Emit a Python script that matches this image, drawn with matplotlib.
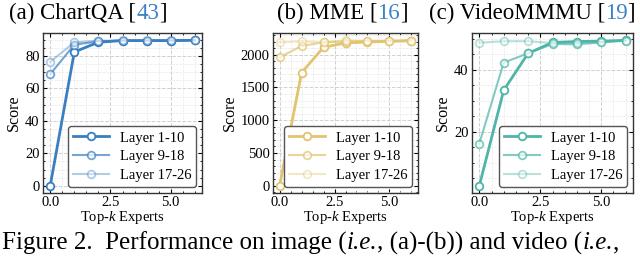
import matplotlib.pyplot as plt
from matplotlib.offsetbox import TextArea, HPacker, AnchoredOffsetbox
from matplotlib.ticker import AutoMinorLocator

plt.rcParams['font.family'] = ['Liberation Serif', 'DejaVu Serif']
plt.rcParams['mathtext.fontset'] = 'custom'
plt.rcParams['mathtext.rm'] = 'Liberation Serif'
plt.rcParams['mathtext.it'] = 'Liberation Serif:italic'

topk = [0, 1, 2, 3, 4, 5, 6]
layers = ["Layer 1-10", "Layer 9-18", "Layer 17-26"]

chartqa_1_10 = [0, 82.5, 88.5, 89.5, 89.5, 89.5, 89.7]
chartqa_9_18 = [68.8, 87.0, 89.0, 89.5, 89.5, 89.5, 89.7]
chartqa_17_26 = [76.4, 88.4, 89.4, 89.6, 89.6, 89.6, 89.7]

mme_1_10 = [0, 1725, 2112, 2178, 2193, 2203, 2214]
mme_9_18 = [1959, 2132, 2188, 2203, 2208, 2210, 2212]
mme_17_26 = [2193, 2208, 2193, 2219, 2212, 2214, 2215]

video_1_10 = [2.6, 33.4, 45.3, 48.8, 49.1, 49.2, 49.5]
video_9_18 = [16.2, 42.3, 45.3, 48.3, 48.2, 48.8, 49.4]
video_17_26 = [48.7, 49.2, 49.2, 48.6, 48.7, 49.0, 49.4]

panels = [
    ("(a) ChartQA [", "43", "]", "#3a7fc1", [chartqa_1_10, chartqa_9_18, chartqa_17_26]),
    ("(b) MME [", "16", "]", "#e2c36e", [mme_1_10, mme_9_18, mme_17_26]),
    ("(c) VideoMMMU [", "19", "]", "#4fb5a8", [video_1_10, video_9_18, video_17_26]),
]
# axes left/right edges and title centres, in pixels
edges = [(43, 202), (273, 418), (472, 633)]
title_x = [88, 342, 532]
alphas = [1.0, 0.7, 0.4]
lws = [2.0, 1.5, 1.5]

W, H = 640, 260
fig = plt.figure(figsize=(6.4, 2.6), dpi=100)

for (pre, ref, post, color, series), (l, r), tx in zip(panels, edges, title_x):
    ax = fig.add_axes([l / W, 1 - 193 / H, (r - l) / W, 160 / H])
    for vals, name, a, lw in zip(series, layers, alphas, lws):
        ax.plot(topk, vals, color=color, alpha=a, lw=lw, marker='o', ms=5.5,
                mfc='white', mec=color, mew=1.3, label=name)
    ax.set_xticks([0, 2.5, 5.0])
    ax.xaxis.set_minor_locator(AutoMinorLocator())
    ax.yaxis.set_minor_locator(AutoMinorLocator())
    ax.grid(True, which='major', ls='--', color='#d0d0d0', lw=0.7)
    ax.grid(True, which='minor', ls='--', color='#e8e8e8', lw=0.5)
    ax.tick_params(which='both', direction='in', top=True, right=True, labelsize=10.5)
    ax.tick_params(which='major', length=3, pad=2.5)
    ax.tick_params(which='minor', length=1.5)
    for s in ax.spines.values():
        s.set_linewidth(1.0)
        s.set_color('#333333')
    ax.set_xlabel("Top-$k$ Experts", fontsize=10.5, labelpad=0)
    ax.set_ylabel("Score", fontsize=11.5, labelpad=2)
    leg = ax.legend(loc='lower right', fontsize=10.5, fancybox=True, framealpha=1,
                    edgecolor='#555555', handlelength=2.5, borderpad=0.35,
                    labelspacing=0.38, borderaxespad=0.4, handletextpad=0.7)
    leg.get_frame().set_linewidth(1.0)
    box = HPacker(children=[
        TextArea(pre, textprops=dict(fontsize=16.5, color='black')),
        TextArea(ref, textprops=dict(fontsize=16.5, color='#3b82c4')),
        TextArea(post, textprops=dict(fontsize=16.5, color='black')),
    ], pad=0, sep=0)
    anch = AnchoredOffsetbox(loc='center', child=box, frameon=False,
                             bbox_to_anchor=(tx / W, 1 - 13 / H),
                             bbox_transform=fig.transFigure, borderpad=0, pad=0)
    fig.add_artist(anch)

cap_parts = [("Figure 2.  Performance on image (", 'normal'), ("i.e.", 'italic'),
             (", (a)-(b)) and video (", 'normal'), ("i.e.", 'italic'), (",", 'normal')]
cap = HPacker(children=[TextArea(t, textprops=dict(fontsize=18, fontstyle=st))
                        for t, st in cap_parts], pad=0, sep=0)
fig.add_artist(AnchoredOffsetbox(loc='center left', child=cap, frameon=False,
                                 bbox_to_anchor=(2 / W, 1 - 243 / H),
                                 bbox_transform=fig.transFigure, borderpad=0, pad=0))

fig.savefig("out.png", dpi=100)
